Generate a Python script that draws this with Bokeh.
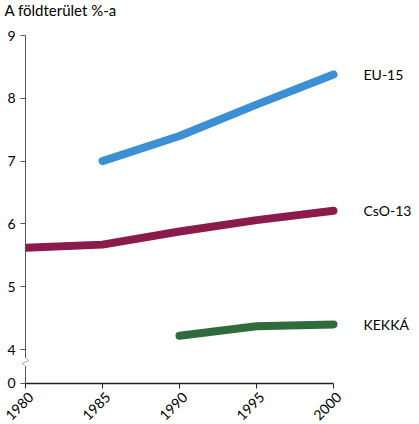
from bokeh.plotting import figure
from bokeh.models import (Range1d, FixedTicker, Label, PolyAnnotation, BoxAnnotation)
from bokeh.embed import file_html
from bokeh.resources import INLINE
import math

# ---- data ----
eu_years = [1985, 1990, 1995, 2000]
eu_values = [7.0, 7.4, 7.9, 8.38]
cso_years = [1980, 1985, 1990, 1995, 2000]
cso_values = [5.62, 5.67, 5.88, 6.06, 6.21]
kek_years = [1990, 1995, 2000]
kek_values = [4.22, 4.37, 4.40]
series_names = ["EU-15", "CsO-13", "KEKKÁ"]
x_ticks = [1980, 1985, 1990, 1995, 2000]
x_tick_labels = ["1980", "1985", "1990", "1995", "2000"]
y_ticks = [4, 5, 6, 7, 8, 9]
title_text = "A földterület %-a"

FONT = "Lato"
colors = ["#3b8fd4", "#8a1b4b", "#2f6b3c"]

# ---- layout (pixels) ----
FRAME_W = 416
FRAME_H = 422
AXIS_X = 25        # pixel position of the y axis
X2000 = 333        # pixel position of 2000
Y9 = 35            # pixel of value 9
Y4 = 349           # pixel of value 4
Y0 = 382.7         # pixel of the broken-axis "0"

ppx = (X2000 - AXIS_X) / 20.0
ppy = (Y4 - Y9) / 5.0
x_start = 1980 - AXIS_X / ppx
x_end = x_start + FRAME_W / ppx
y_end = 9 + Y9 / ppy
y_start = y_end - FRAME_H / ppy
BASE = 4 - (Y0 - Y4) / ppy     # value position used for the broken-axis "0"

p = figure(frame_width=FRAME_W, frame_height=FRAME_H, output_backend="svg",
           toolbar_location=None,
           x_range=Range1d(x_start, x_end), y_range=Range1d(y_start, y_end),
           min_border_left=0, min_border_right=0, min_border_top=0,
           min_border_bottom=0)
p.outline_line_color = None
p.xgrid.grid_line_color = None
p.ygrid.grid_line_color = None
p.background_fill_color = "white"
p.border_fill_color = "white"

for xs, ys, c in [(eu_years, eu_values, colors[0]),
                  (cso_years, cso_values, colors[1]),
                  (kek_years, kek_values, colors[2])]:
    p.line(xs, ys, line_color=c, line_width=8, line_cap="round", line_join="round")

# hide the round cap sticking out left of the y axis
p.add_layout(BoxAnnotation(left=x_start, right=1980 - 0.6 / ppx,
                           bottom=cso_values[0] - 8 / ppy, top=cso_values[0] + 8 / ppy,
                           fill_color="white", fill_alpha=1, line_alpha=0))

# axes
p.xaxis.fixed_location = BASE
p.xaxis.ticker = FixedTicker(ticks=x_ticks)
p.xaxis.bounds = (1980, 2000)
p.xaxis.major_label_overrides = {t: "" for t in x_ticks}
p.xaxis.axis_line_color = "#222222"
p.xaxis.axis_line_width = 1.5
p.xaxis.major_tick_line_color = "#222222"
p.xaxis.major_tick_out = 5
p.xaxis.major_tick_in = 0
p.xaxis.minor_tick_line_color = None

# rotated x tick labels
for t, lab in zip(x_ticks, x_tick_labels):
    p.add_layout(Label(x=t, y=BASE, x_offset=-6, y_offset=-23, text=lab,
                       angle=math.pi / 4, text_align="center", text_baseline="middle",
                       text_font=FONT, text_font_size="14px", text_color="black"))

p.yaxis.fixed_location = 1980
p.yaxis.bounds = (BASE, 9)
p.yaxis.ticker = FixedTicker(ticks=[BASE] + y_ticks)
p.yaxis.major_label_overrides = {BASE: "0"}
p.yaxis.axis_line_color = "#555555"
p.yaxis.major_tick_line_color = "#555555"
p.yaxis.major_tick_out = 5
p.yaxis.major_tick_in = 0
p.yaxis.minor_tick_line_color = None
p.yaxis.major_label_text_font = FONT
p.yaxis.major_label_text_font_size = "14px"
p.yaxis.major_label_text_color = "black"
p.yaxis.major_label_standoff = 5

# axis break (zigzag)
y_top = 4 - 8 / ppy
p.add_layout(BoxAnnotation(left=1980 - 2 / ppx, right=1980 + 2 / ppx,
                           bottom=y_top - 9 / ppy, top=y_top,
                           fill_color="white", fill_alpha=1, line_alpha=0))
zx = [1980, 1980 + 3 / ppx, 1980 - 3 / ppx, 1980, 1980 - 3 / ppx, 1980 + 3 / ppx]
zy = [y_top, y_top - 3 / ppy, y_top - 6 / ppy, y_top - 9 / ppy, y_top - 6 / ppy, y_top - 3 / ppy]
p.add_layout(PolyAnnotation(xs=zx, ys=zy, fill_alpha=0, line_color="#555555", line_width=1))

# title
p.add_layout(Label(x=1980, y=9, x_offset=-(AXIS_X - 4), y_offset=17, text=title_text,
                   text_font=FONT, text_font_size="15px", text_color="black",
                   text_baseline="bottom"))

# series labels
for name, xs, ys in zip(series_names, [eu_years, cso_years, kek_years],
                        [eu_values, cso_values, kek_values]):
    p.add_layout(Label(x=xs[-1], y=ys[-1], x_offset=30, text=name,
                       text_font=FONT, text_font_size="14px", text_color="black",
                       text_baseline="middle"))

open("out.html", "w").write(file_html(p, INLINE))
